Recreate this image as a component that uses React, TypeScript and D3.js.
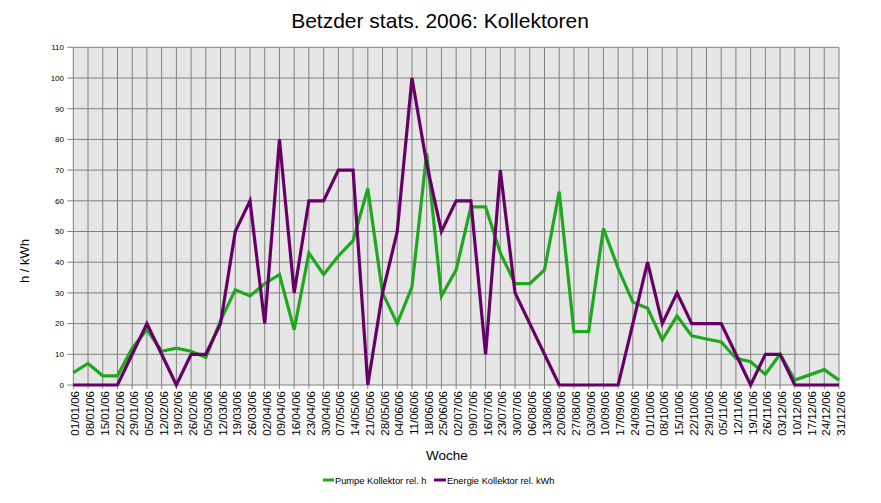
import React from "react";
import * as d3 from "d3";

const weeks = [
  "01/01/06","08/01/06","15/01/06","22/01/06","29/01/06","05/02/06","12/02/06","19/02/06","26/02/06",
  "05/03/06","12/03/06","19/03/06","26/03/06","02/04/06","09/04/06","16/04/06","23/04/06","30/04/06",
  "07/05/06","14/05/06","21/05/06","28/05/06","04/06/06","11/06/06","18/06/06","25/06/06","02/07/06",
  "09/07/06","16/07/06","23/07/06","30/07/06","06/08/06","13/08/06","20/08/06","27/08/06","03/09/06",
  "10/09/06","17/09/06","24/09/06","01/10/06","08/10/06","15/10/06","22/10/06","29/10/06","05/11/06",
  "12/11/06","19/11/06","26/11/06","03/12/06","10/12/06","17/12/06","24/12/06","31/12/06",
];

const pumpe = [
  4, 7, 3, 3, 12, 18, 11, 12, 11, 9,
  21, 31, 29, 33, 36, 18, 43, 36, 42, 47,
  64, 30, 20, 32, 75.5, 29, 37.5, 58, 58, 43,
  33, 33, 37.5, 63, 17.4, 17.4, 51, 38, 27, 25,
  14.7, 22.5, 16, 15, 14, 8.7, 7.6, 3.5, 10, 1.6,
  3.3, 5, 1.6,
];

const energie = [
  0, 0, 0, 0, 10, 20, 10, 0, 10, 10,
  20, 50, 60, 20, 80, 30, 60, 60, 70, 70,
  0, 30, 50, 100, 72, 50, 60, 60, 10, 70,
  30, 20, 10, 0, 0, 0, 0, 0, 20, 40,
  20, 30, 20, 20, 20, 10, 0, 10, 10, 0,
  0, 0, 0,
];

const yTicks = [0, 10, 20, 30, 40, 50, 60, 70, 80, 90, 100, 110];

const seriesNames = ["Pumpe Kollektor rel. h", "Energie Kollektor rel. kWh"];
const colors = ["#1fa81f", "#660066"];

export default function App() {
  const W = 881, H = 503;
  const left = 73.3, right = 839, top = 47.3, bottom = 385;
  const font = "'Liberation Sans', Arial, sans-serif";

  const x = d3.scalePoint<string>().domain(weeks).range([left, right]);
  const y = d3.scaleLinear().domain([0, 110]).range([bottom, top]);

  const line = d3
    .line<number>()
    .x((_, i) => x(weeks[i]) as number)
    .y((d) => y(d));

  const series = [pumpe, energie];

  return (
    <svg
      width={W}
      height={H}
      style={{ position: "absolute", left: 0, top: 0, background: "#fff" }}
      fontFamily={font}
    >
      <rect x={left} y={top} width={right - left} height={bottom - top} fill="#e6e6e6" />
      {yTicks.map((t) => (
        <g key={t}>
          <line x1={left - 6} x2={right} y1={y(t)} y2={y(t)} stroke="#808080" strokeWidth={1} />
          <text x={64} y={y(t)} dy="0.35em" fontSize={8} textAnchor="end" fill="#000">
            {t}
          </text>
        </g>
      ))}
      {weeks.map((w) => (
        <g key={w}>
          <line x1={x(w)} x2={x(w)} y1={top} y2={bottom + 4} stroke="#808080" strokeWidth={1} />
          <text
            transform={`translate(${(x(w) as number) + 2},${bottom + 6}) rotate(-90)`}
            fontSize={11.5}
            textAnchor="end"
            dy="0.35em"
            fill="#000"
          >
            {w}
          </text>
        </g>
      ))}
      {series.map((s, k) => (
        <path
          key={k}
          d={line(s) || ""}
          fill="none"
          stroke={colors[k]}
          strokeWidth={3.2}
          strokeLinejoin="miter"
        />
      ))}
      <text x={440} y={28} fontSize={21} textAnchor="middle" fill="#000">
        Betzder stats. 2006: Kollektoren
      </text>
      <text x={447} y={460} fontSize={13.5} textAnchor="middle" fill="#000">
        Woche
      </text>
      <text
        transform={`translate(29,261) rotate(-90)`}
        fontSize={13}
        textAnchor="middle"
        fill="#000"
      >
        h / kWh
      </text>
      <g>
        <line x1={323} x2={334} y1={480} y2={480} stroke={colors[0]} strokeWidth={3} />
        <text x={335} y={483.5} fontSize={9.3} fill="#000">{seriesNames[0]}</text>
        <line x1={434} x2={446} y1={480} y2={480} stroke={colors[1]} strokeWidth={3} />
        <text x={447} y={483.5} fontSize={9.3} fill="#000">{seriesNames[1]}</text>
      </g>
    </svg>
  );
}
